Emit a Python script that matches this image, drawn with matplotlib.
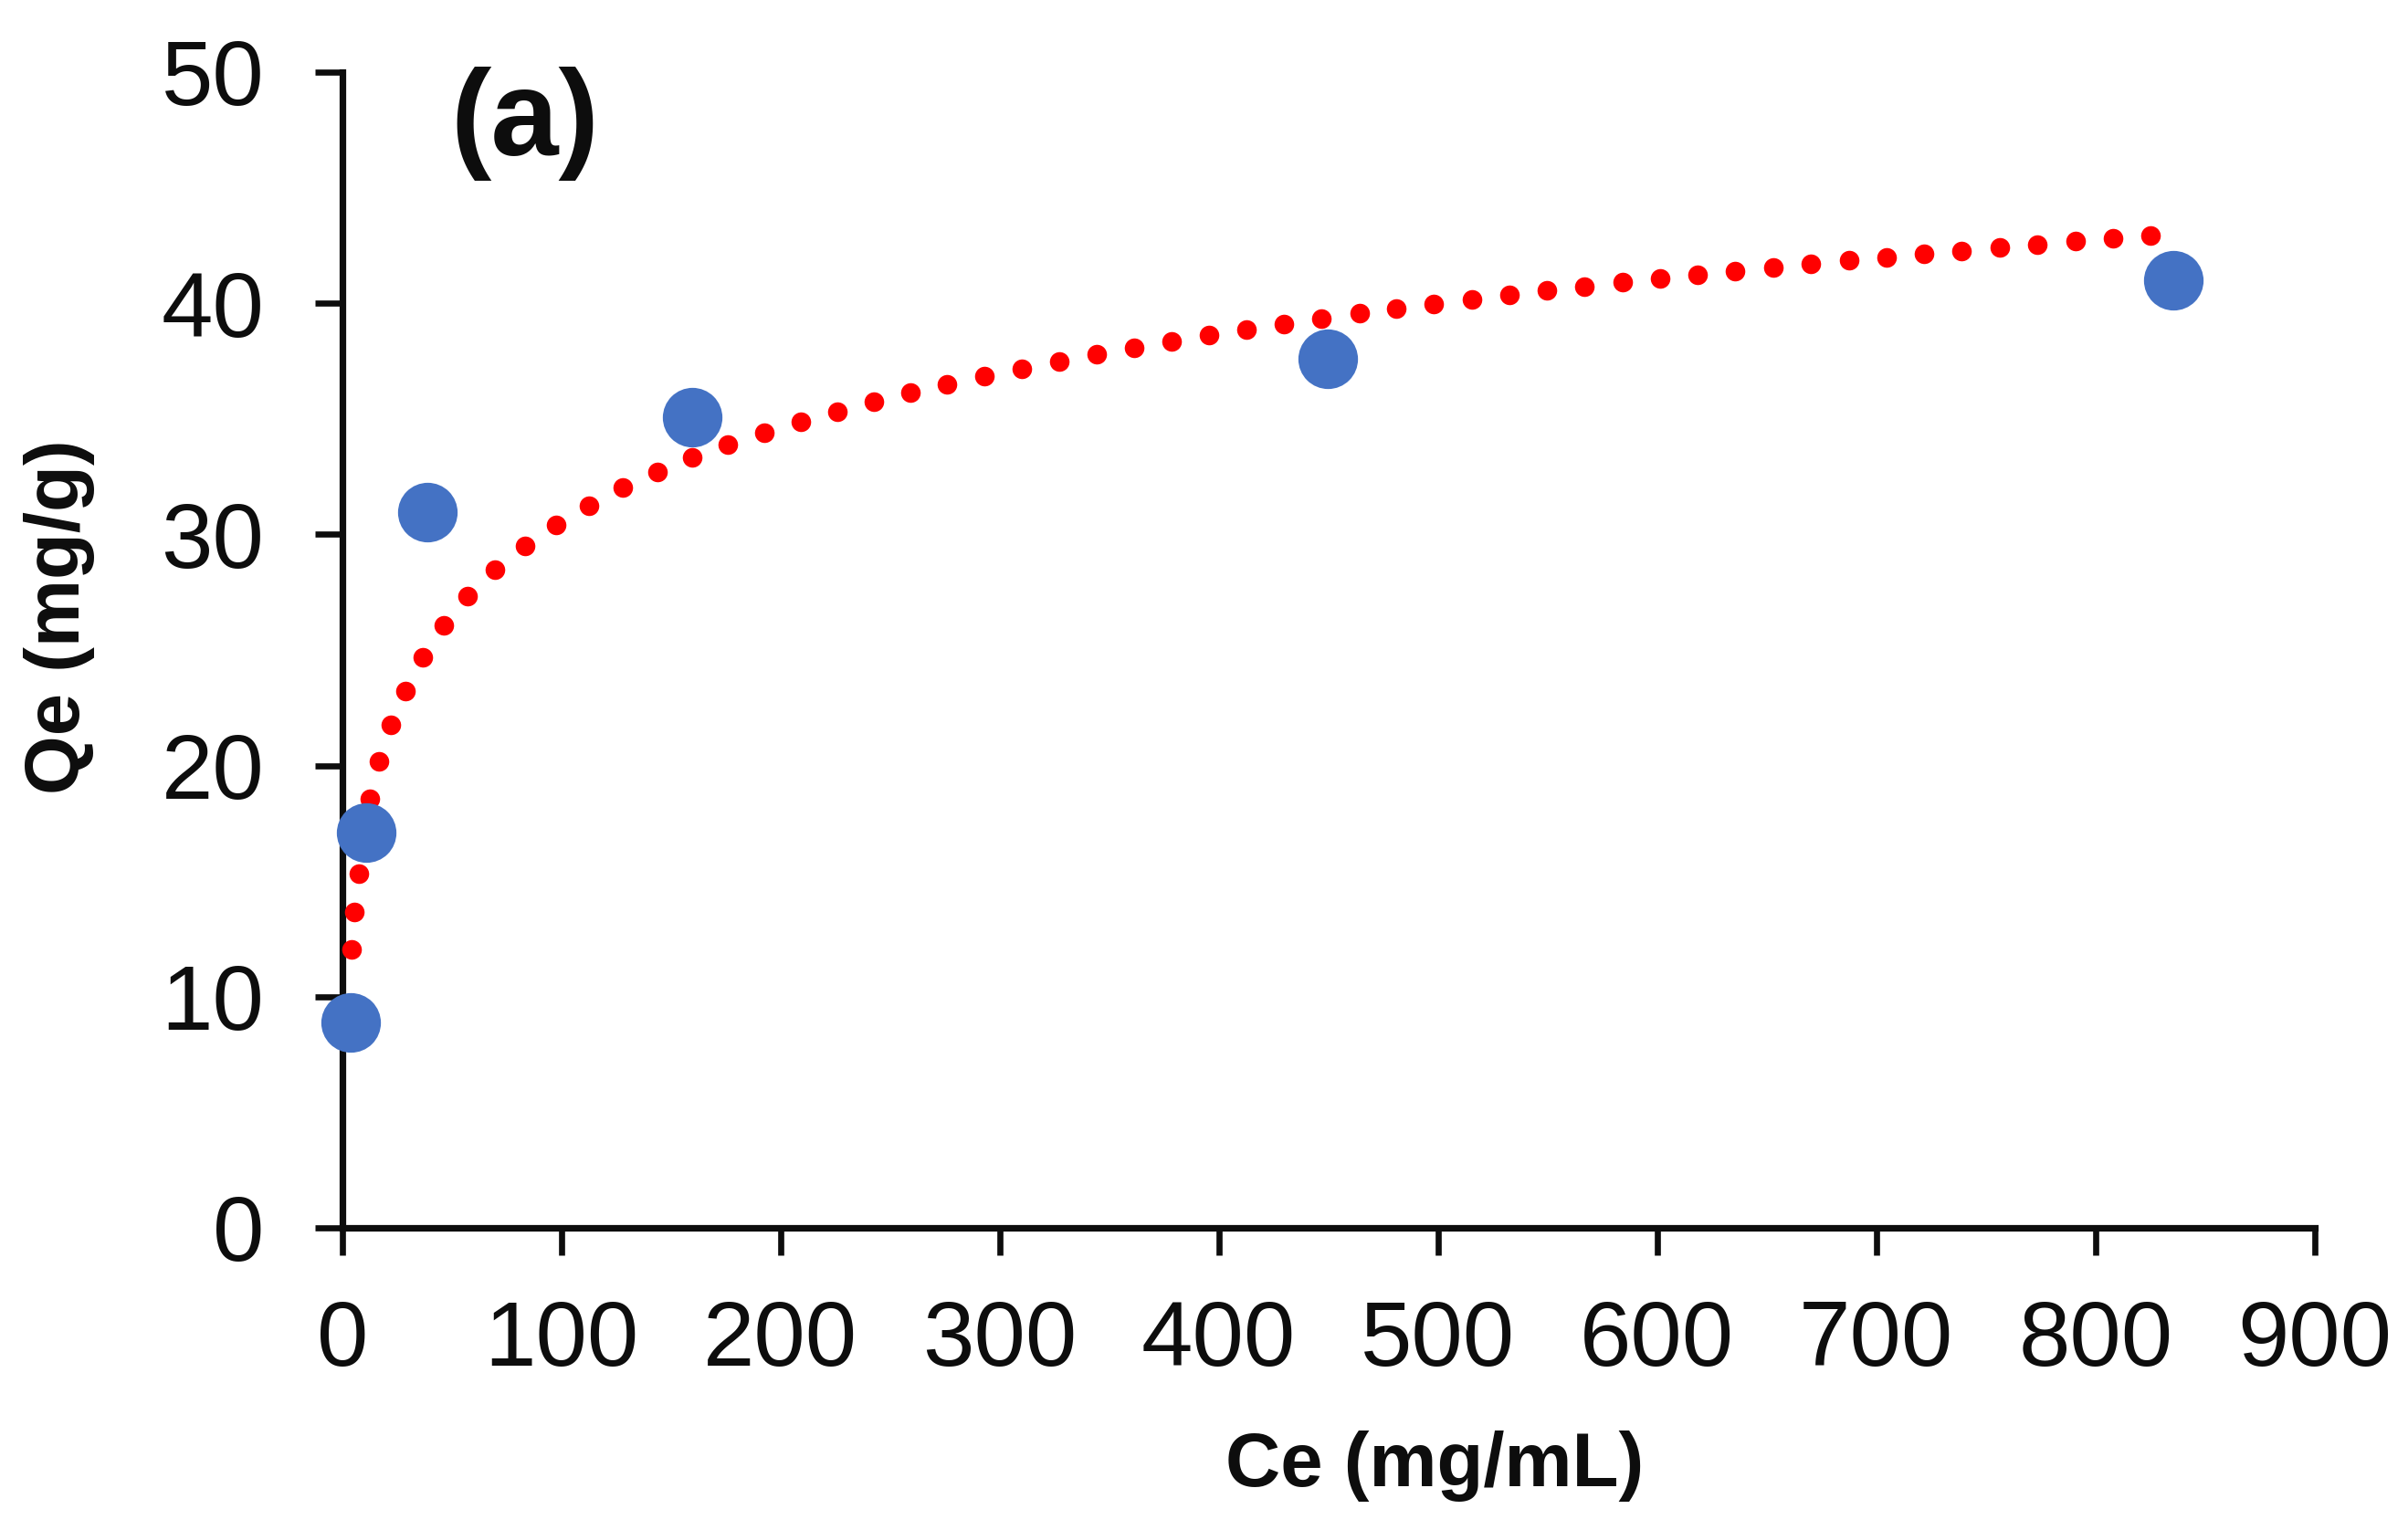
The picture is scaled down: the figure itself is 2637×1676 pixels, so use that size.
import matplotlib
matplotlib.use("Agg")
import matplotlib.pyplot as plt

plt.rcParams['font.family'] = ['Liberation Sans', 'DejaVu Sans']

# measured points
ce = [4.0, 10.9, 39.0, 159.7, 449.5, 835.6]
qe = [8.9, 17.1, 30.95, 35.08, 37.6, 41.0]

# dotted trendline, dots
fit_ce = [4.25, 5.6, 7.5, 9.6, 12.75, 16.75, 22.1, 29.0, 36.6, 46.5, 57.3, 69.8,
          83.4, 97.8, 112.6, 128.0, 144.0, 159.9, 176.1, 192.6, 209.1, 225.8,
          242.6, 259.3, 276.0, 293.0, 310.0, 327.1, 344.1, 361.3, 378.4, 395.5,
          412.6, 429.6, 446.7, 464.1, 481.1, 498.2, 515.6, 532.6, 549.7, 566.7,
          584.2, 601.2, 618.6, 635.7, 653.0, 670.1, 687.5, 704.6, 722.0, 739.0,
          756.4, 773.5, 790.9, 807.9, 825.3]
fit_qe = [12.04, 13.66, 15.33, 16.93, 18.55, 20.17, 21.75, 23.24, 24.70, 26.07,
          27.34, 28.48, 29.51, 30.42, 31.25, 32.02, 32.71, 33.32, 33.89, 34.40,
          34.87, 35.32, 35.74, 36.14, 36.51, 36.85, 37.16, 37.48, 37.80, 38.08,
          38.36, 38.61, 38.86, 39.11, 39.35, 39.56, 39.78, 39.98, 40.18, 40.36,
          40.56, 40.73, 40.93, 41.09, 41.24, 41.40, 41.56, 41.71, 41.86, 41.99,
          42.14, 42.27, 42.43, 42.55, 42.69, 42.82, 42.94]

xticks = [0, 100, 200, 300, 400, 500, 600, 700, 800, 900]
yticks = [0, 10, 20, 30, 40, 50]

ink = '#0d0d0d'

fig = plt.figure(figsize=(26.37, 16.76), dpi=100)
ax = fig.add_axes([0.1421, 0.1975, 0.8191, 0.7554])

ax.plot(fit_ce, fit_qe, linestyle='none', marker='o', markersize=15.5,
        color='#ff0000', markeredgewidth=0, zorder=3, clip_on=False)
ax.plot(ce, qe, linestyle='none', marker='o', markersize=47,
        color='#4472c4', markeredgewidth=0, zorder=4, clip_on=False)

ax.set_xlim(0, 900)
ax.set_ylim(0, 50)
ax.set_xticks(xticks)
ax.set_yticks(yticks)

for s in ['top', 'right']:
    ax.spines[s].set_visible(False)
for s in ['left', 'bottom']:
    ax.spines[s].set_linewidth(5.2)
    ax.spines[s].set_color(ink)

ax.tick_params(axis='both', direction='out', length=21.5, width=4.8,
               colors=ink, labelsize=73)
ax.tick_params(axis='y', pad=40)
ax.tick_params(axis='x', pad=35)

fig.text(0.5959, 0.0418, 'Ce (mg/mL)', fontsize=60, fontweight='bold',
         color=ink, ha='center', va='center')
fig.text(0.02465, 0.5967, 'Qe (mg/g)', fontsize=60, fontweight='bold',
         color=ink, ha='center', va='center', rotation=90)
fig.text(0.1871, 0.9189, '(a)', fontsize=96, fontweight='bold',
         color=ink, ha='left', va='center')

fig.savefig('out.png', dpi=100, facecolor='white')
